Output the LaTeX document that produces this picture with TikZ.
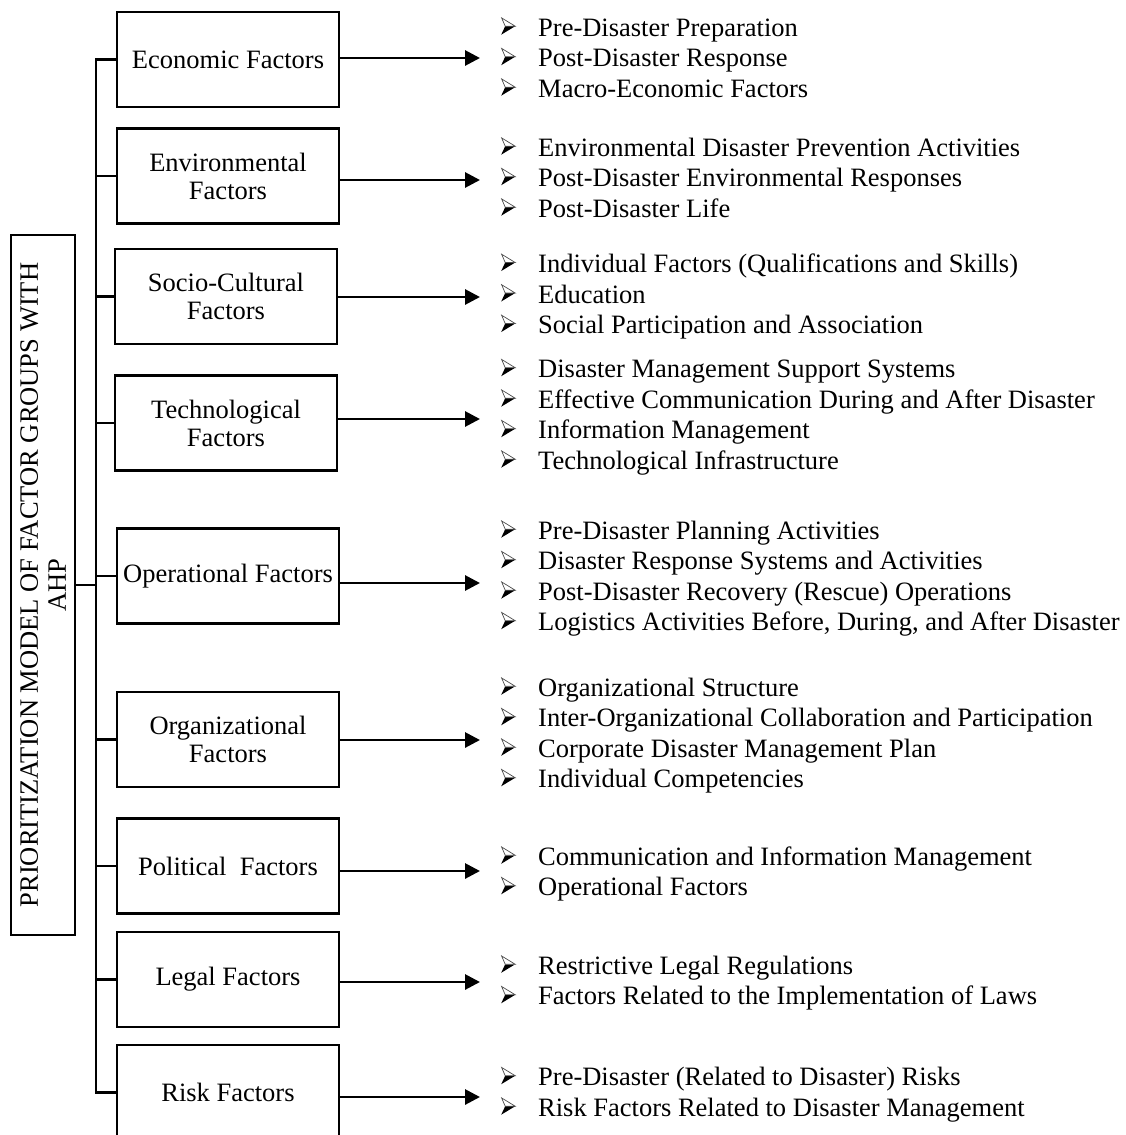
\documentclass[tikz,border=0pt]{standalone}
\usepackage{fontspec}
\setmainfont{Liberation Serif}
\usetikzlibrary{arrows.meta}
\newsavebox\arrbox
\newcommand{\bulletitem}{\makebox[37pt][l]{\usebox\arrbox}}
\begin{document}
\sbox\arrbox{\begin{pgfpicture}%
  \pgfsetbaseline{0pt}%
  \pgfpathmoveto{\pgfpoint{0pt}{1.5pt}}%
  \pgfpathlineto{\pgfpoint{14pt}{10pt}}%
  \pgfpathlineto{\pgfpoint{4pt}{10pt}}%
  \pgfpathclose
  \pgfsetfillcolor{black}%
  \pgfusepath{fill}%
  \pgfpathmoveto{\pgfpoint{0.4pt}{18.3pt}}%
  \pgfpathlineto{\pgfpoint{14pt}{10pt}}%
  \pgfpathlineto{\pgfpoint{4pt}{10pt}}%
  \pgfpathclose
  \pgfsetlinewidth{0.7pt}%
  \pgfsetfillcolor{white}%
  \pgfsetstrokecolor{black!70}%
  \pgfusepath{fill,stroke}%
\end{pgfpicture}}%
\begin{tikzpicture}[x=1pt,y=-1pt,
  fbox/.style={draw, line width=2.7pt, minimum width=222pt, minimum height=95pt, align=center,
    font=\fontsize{26.5}{28}\selectfont, inner sep=0pt},
  mainbox/.style={draw, line width=2.7pt, minimum width=64pt, minimum height=700pt, inner sep=0pt},
  maintext/.style={rotate=90, align=center, inner sep=0pt, font=\fontsize{26.5}{28}\selectfont},
  lst/.style={anchor=west, align=left, inner sep=0pt, font=\fontsize{26.5}{30.5}\selectfont},
  conn/.style={line width=2.9pt, line join=miter},
  arr/.style={line width=2.9pt, -{Triangle[length=15pt,width=15pt]}}]
\useasboundingbox (0,0) rectangle (1125,1135);

% main box
\node[mainbox] (m) at (43,585) {};
\node[maintext] (mt) at (m.center) {PRIORITIZATION MODEL OF FACTOR GROUPS WITH\\AHP};

% factor boxes
\node[fbox] (b1) at (228,59.5) {Economic Factors};
\node[fbox] (b2) at (228,176) {Environmental\\Factors};
\node[fbox] (b3) at (226,296.5) {Socio-Cultural\\Factors};
\node[fbox] (b4) at (226,423) {Technological\\Factors};
\node[fbox] (b5) at (228,576) {Operational Factors};
\node[fbox] (b6) at (228,739.5) {Organizational\\Factors};
\node[fbox] (b7) at (228,866) {Political\ \ Factors};
\node[fbox] (b8) at (228,979.5) {Legal Factors};
\node[fbox] (b9) at (228,1092.5) {Risk Factors};

% trunk
\coordinate (tr) at (96,585);
\draw[conn] (b1.west) -- (b1.west -| tr) -- (b9.west -| tr) -- (b9.west);
\foreach \b in {b2,b3,b4,b5,b6,b7,b8} {\draw[conn] (\b.west) -- (\b.west -| tr);}
\draw[conn] (m.east) -- (tr);

% arrow ends
\coordinate (a1) at (480,58);
\coordinate (a2) at (480,180);
\coordinate (a3) at (480,297);
\coordinate (a4) at (480,419);
\coordinate (a5) at (480,583);
\coordinate (a6) at (480,740);
\coordinate (a7) at (480,871);
\coordinate (a8) at (480,982);
\coordinate (a9) at (480,1097);
\foreach \i in {1,...,9} {\draw[arr] (b\i.east |- a\i) -- (a\i);}

% lists
\node[lst] (l1) at (501,57.5) {\bulletitem Pre-Disaster Preparation\\ \bulletitem Post-Disaster Response\\ \bulletitem Macro-Economic Factors};
\node[lst] (l2) at (501,177.5) {\bulletitem Environmental Disaster Prevention Activities\\ \bulletitem Post-Disaster Environmental Responses\\ \bulletitem Post-Disaster Life};
\node[lst] (l3) at (501,296.5) {\bulletitem Individual Factors (Qualifications and Skills)\\ \bulletitem Education\\ \bulletitem Social Participation and Association};
\node[lst] (l4) at (501,417) {\bulletitem Disaster Management Support Systems\\ \bulletitem Effective Communication During and After Disaster\\ \bulletitem Information Management\\ \bulletitem Technological Infrastructure};
\node[lst] (l5) at (501,578.5) {\bulletitem Pre-Disaster Planning Activities\\ \bulletitem Disaster Response Systems and Activities\\ \bulletitem Post-Disaster Recovery (Rescue) Operations\\ \bulletitem Logistics Activities Before, During, and After Disaster};
\node[lst] (l6) at (501,735.5) {\bulletitem Organizational Structure\\ \bulletitem Inter-Organizational Collaboration and Participation\\ \bulletitem Corporate Disaster Management Plan\\ \bulletitem Individual Competencies};
\node[lst] (l7) at (501,874) {\bulletitem Communication and Information Management\\ \bulletitem Operational Factors};
\node[lst] (l8) at (501,983) {\bulletitem Restrictive Legal Regulations\\ \bulletitem Factors Related to the Implementation of Laws};
\node[lst] (l9) at (501,1094.5) {\bulletitem Pre-Disaster (Related to Disaster) Risks\\ \bulletitem Risk Factors Related to Disaster Management};
\end{tikzpicture}
\end{document}
